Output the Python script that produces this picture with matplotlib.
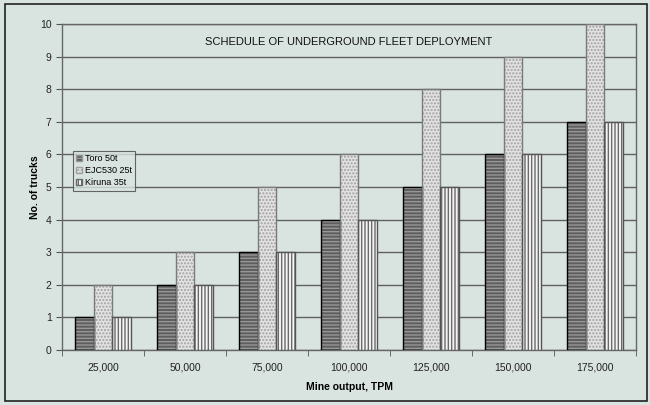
import numpy as np
import matplotlib
matplotlib.use('Agg')
from matplotlib import pyplot as plt
from matplotlib.patches import Patch

categories = ['25,000', '50,000', '75,000', '100,000', '125,000', '150,000', '175,000']
toro = [1, 2, 3, 4, 5, 6, 7]
ejc = [2, 3, 5, 6, 8, 9, 10]
kiruna = [1, 2, 3, 4, 5, 6, 7]
series_names = ['Toro 50t', 'EJC530 25t', 'Kiruna 35t']

bg = '#d9e4e1'
plt.rcParams['font.family'] = ['Liberation Sans', 'DejaVu Sans']
plt.rcParams['hatch.linewidth'] = 1.0

fig = plt.figure(figsize=(6.5, 4.05), dpi=100, facecolor=bg)
ax = fig.add_axes([62 / 650, 1 - 350 / 405, (636 - 62) / 650, (350 - 24) / 405])
ax.set_facecolor(bg)

x = np.arange(len(categories))
w = 0.225

# fill + hatch first, then outline on top
styles = [
    dict(fc='#5e5e5e', hc='#979797', hatch='-----', ec='#000000'),
    dict(fc='#e2e2e2', hc='#a0a0a0', hatch='.....', ec='#7a7a7a'),
    dict(fc='#f4f4f4', hc='#6a6a6a', hatch='|||||', ec='#555555'),
]
data = [toro, ejc, kiruna]
for i, (vals, st) in enumerate(zip(data, styles)):
    pos = x + (i - 1) * w
    ax.bar(pos, vals, w, color=st['fc'], edgecolor=st['hc'], hatch=st['hatch'],
           linewidth=0, zorder=3)
    ax.bar(pos, vals, w, fill=False, edgecolor=st['ec'], linewidth=1.0, zorder=4)

ax.set_xlim(-0.5, len(categories) - 0.5)
ax.set_ylim(0, 10)
ax.set_yticks(range(0, 11))
ax.yaxis.grid(True, color='#606060', linewidth=1.0, zorder=1)
ax.set_axisbelow(True)

ax.set_xticks(x)
ax.set_xticklabels(categories, fontsize=7.5, color='#222222')
ax.set_xticks(np.arange(-0.5, len(categories)), minor=True)
ax.tick_params(axis='x', which='major', length=0, pad=9)
ax.tick_params(axis='x', which='minor', length=4, color='#555555', direction='out')
ax.tick_params(axis='y', length=4, color='#555555', labelsize=7.5, labelcolor='#222222')

for s in ax.spines.values():
    s.set_color('#666666')
    s.set_linewidth(1.0)

ax.set_xlabel('Mine output, TPM', fontsize=7.5, fontweight='bold', labelpad=7)
ax.set_ylabel('No. of trucks', fontsize=7.5, fontweight='bold', labelpad=0)
ax.text(0.5, 0.945, 'SCHEDULE OF UNDERGROUND FLEET DEPLOYMENT', transform=ax.transAxes,
        ha='center', va='center', fontsize=8, color='#111111')

handles = [Patch(facecolor=st['fc'], edgecolor=st['hc'], hatch=st['hatch'])
           for st in styles]
leg = ax.legend(handles, series_names, loc='upper left', bbox_to_anchor=(11 / 574, 1 - 127 / 326),
                fontsize=6.5, handlelength=0.7, handleheight=0.7, handletextpad=0.3,
                labelspacing=0.35, borderpad=0.35, frameon=True, fancybox=False,
                borderaxespad=0)
leg.get_frame().set_edgecolor('#444444')
leg.get_frame().set_facecolor(bg)
leg.get_frame().set_linewidth(0.8)

# outer frame of the chart area
fig.patches.append(plt.Rectangle((5 / 650, 4 / 405), 642 / 650, 397 / 405, fill=False,
                                 edgecolor='#222222', linewidth=1.2, transform=fig.transFigure))

fig.savefig('out.png', dpi=100, facecolor=bg)
